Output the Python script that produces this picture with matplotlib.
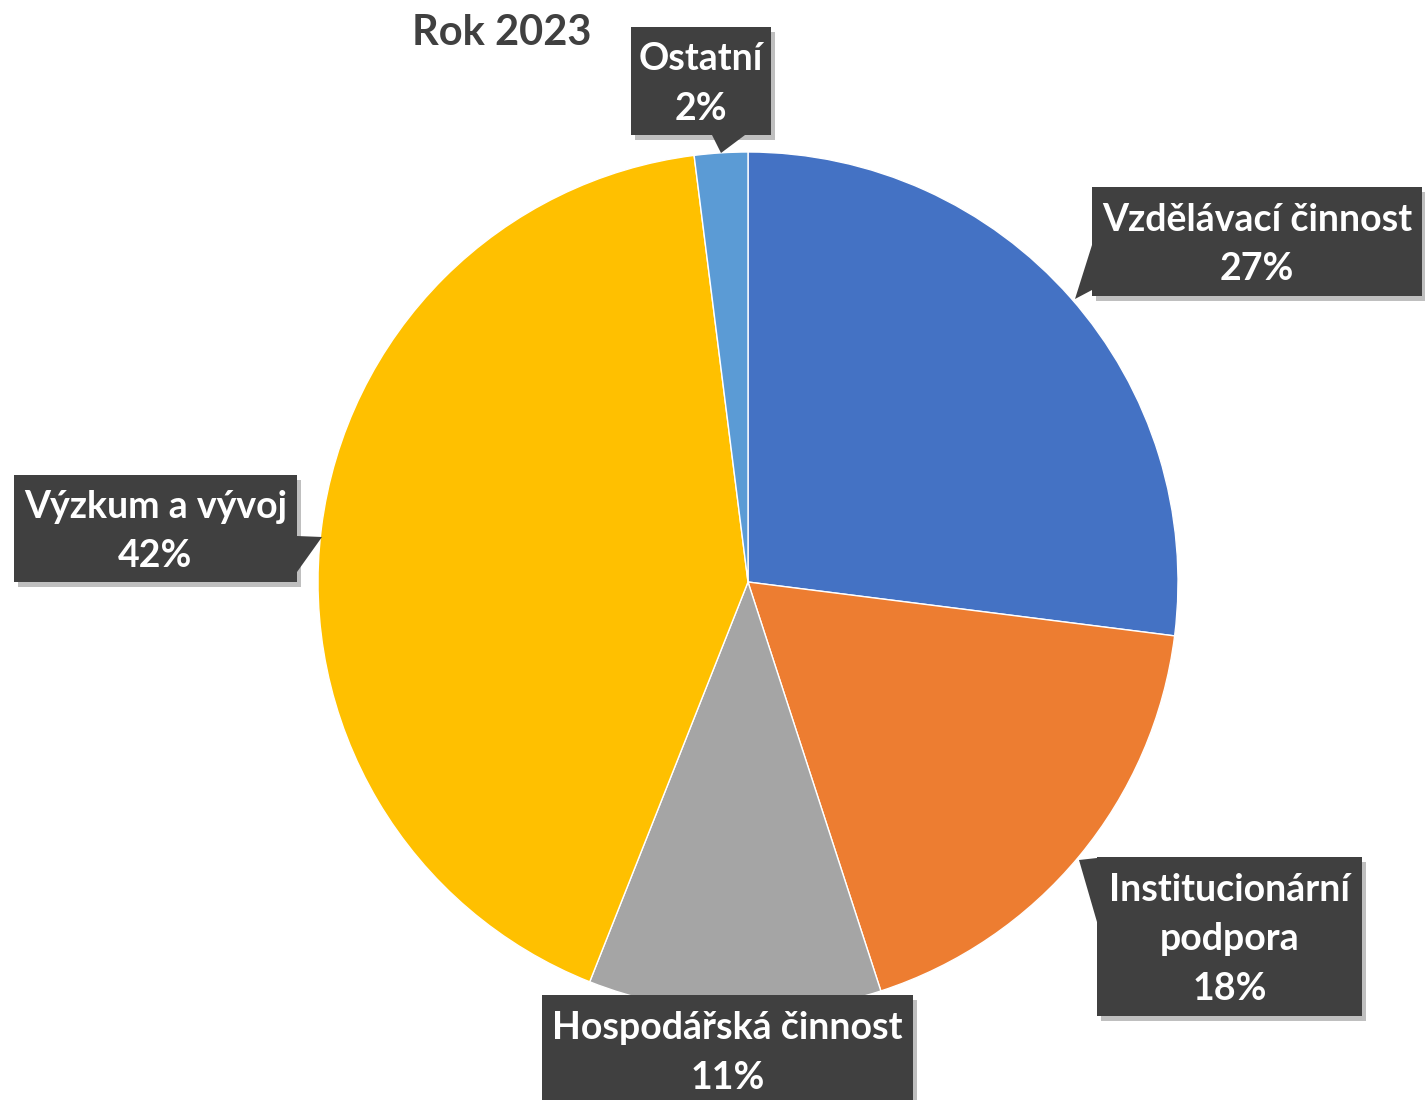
import matplotlib
matplotlib.use("Agg")
import matplotlib.pyplot as plt
from matplotlib.patches import Rectangle, Polygon

plt.rcParams['font.family'] = ['Lato', 'DejaVu Sans']

categories = ["Vzdělávací činnost", "Institucionární\npodpora", "Hospodářská činnost",
              "Výzkum a vývoj", "Ostatní"]
values = [27, 18, 11, 42, 2]
colors = ["#4472C4", "#ED7D31", "#A5A5A5", "#FFC000", "#5B9BD5"]
title = "Rok 2023"

W, H = 1425, 1100
fig = plt.figure(figsize=(W / 100, H / 100), dpi=100)
ax = fig.add_axes([0, 0, 1, 1])

def Y(py):
    return H - py

ax.pie(values, colors=colors, startangle=90, counterclock=False,
       center=(748, Y(582)), radius=430,
       wedgeprops=dict(edgecolor="white", linewidth=1))
ax.set_xlim(0, W)
ax.set_ylim(0, H)
ax.set_aspect("equal")
ax.axis("off")

# label boxes: (x0, y0, x1, y1) in pixel coords, pointer triangle
boxes = [
    ((1092, 187, 1422, 296), [(1092, 245), (1092, 290), (1075, 299)]),
    ((1097, 857, 1362, 1016), [(1097, 858), (1097, 922), (1079, 860)]),
    ((542, 995, 913, 1120), None),
    ((14, 475, 297, 582), [(297, 536), (297, 572), (322, 537)]),
    ((631, 27, 771, 135), [(712, 135), (745, 135), (721, 153)]),
]

box_col = "#404040"
for (cat, val, (b, tri)) in zip(categories, values, boxes):
    x0, y0, x1, y1 = b
    # shadow
    ax.add_patch(Rectangle((x0 + 4, Y(y1) - 5), x1 - x0, y1 - y0,
                           facecolor="#000000", alpha=0.25, lw=0, zorder=4))
    ax.add_patch(Rectangle((x0, Y(y1)), x1 - x0, y1 - y0,
                           facecolor=box_col, lw=0, zorder=5))
    if tri is not None:
        ax.add_patch(Polygon([(px, Y(py)) for px, py in tri], closed=True,
                             facecolor=box_col, lw=0, zorder=5))
    cy = (y0 + y1) / 2 + 3 if cat != "Hospodářská činnost" else 1053
    ax.text((x0 + x1) / 2, Y(cy), f"{cat}\n{val}%", ha="center", va="center",
            color="white", fontsize=27, fontweight="bold", linespacing=1.55,
            zorder=6)

ax.text(502, Y(33), title, ha="center", va="center", color="#404040",
        fontsize=30, fontweight="bold")

fig.savefig("out.png", dpi=100)
